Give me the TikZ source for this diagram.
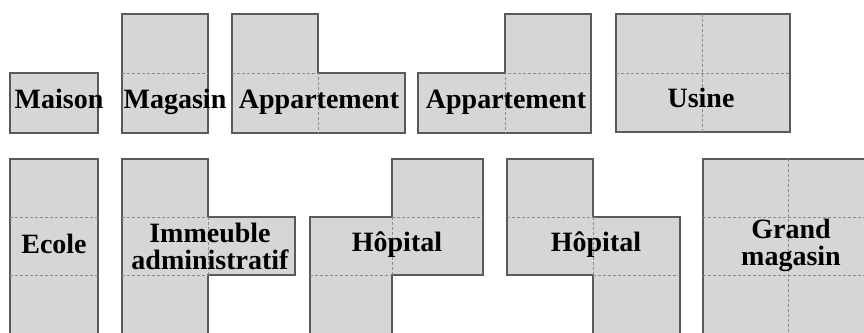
\documentclass[tikz,border=0pt]{standalone}
\usepackage{fontspec}
\setmainfont{Liberation Serif}
\definecolor{roomgray}{RGB}{214,214,214}
\definecolor{wallgray}{RGB}{90,90,90}
\definecolor{cutgray}{RGB}{140,140,140}
\begin{document}
\begin{tikzpicture}[x=1pt,y=-1pt,
		room/.style={fill=roomgray, draw=wallgray, line width=1.2pt},
		cut/.style={draw=cutgray, line width=0.7pt, dash pattern=on 3pt off 2pt},
		roomname/.style={font=\bfseries\fontsize{28}{27}\selectfont, align=center, anchor=base, inner sep=0pt}]
		\useasboundingbox (0,0) rectangle (864,332);
		
		% first row
		\draw[room] (10,73) rectangle (98,133);
		\draw[room] (122,14) rectangle (208,133);
		\draw[cut] (122,73) -- (208,73);
		\draw[room] (232,14) -- (318,14) -- (318,73) -- (405,73) -- (405,133) -- (232,133) -- cycle;
		\draw[cut] (232,73) -- (318,73) -- (318,133);
		\draw[room] (418,73) -- (505,73) -- (505,14) -- (591,14) -- (591,133) -- (418,133) -- cycle;
		\draw[cut] (591,73) -- (505,73) -- (505,133);
		\draw[room] (616,14) rectangle (790,132);
		\draw[cut] (616,73) -- (790,73) (702,14) -- (702,132);
		
		\node[roomname] (maison) at (59,108) {Maison};
		\node[roomname] (magasin) at (175,108) {Magasin};
		\node[roomname] (appart1) at (319,108) {Appartement};
		\node[roomname] (appart2) at (506,108) {Appartement};
		\node[roomname] (usine) at (701,107) {Usine};
		
		% second row
		\draw[room] (10,159) rectangle (98,340);
		\draw[room] (122,159) -- (208,159) -- (208,217) -- (295,217) -- (295,275) -- (208,275) -- (208,340) -- (122,340) -- cycle;
		\draw[room] (392,159) -- (483,159) -- (483,275) -- (392,275) -- (392,340) -- (310,340) -- (310,217) -- (392,217) -- cycle;
		\draw[room] (507,159) -- (593,159) -- (593,217) -- (680,217) -- (680,340) -- (593,340) -- (593,275) -- (507,275) -- cycle;
		\draw[room] (703,159) rectangle (880,340);
		\foreach \y in {217,275}{
			\draw[cut] (10,\y) -- (98,\y);
			\draw[cut] (122,\y) -- (208,\y);
			\draw[cut] (703,\y) -- (880,\y);
		}
		\draw[cut] (208,217) -- (208,275);
		\draw[cut] (392,217) -- (483,217) (310,275) -- (392,275) (392,217) -- (392,275);
		\draw[cut] (507,217) -- (593,217) (593,275) -- (680,275) (593,217) -- (593,275);
		\draw[cut] (788,159) -- (788,340);
		
		\node[roomname] (ecole) at (54,253) {Ecole};
		\node[roomname] (immeuble) at (210,269) {Immeuble\\administratif};
		\node[roomname] (hopital1) at (397,251) {Hôpital};
		\node[roomname] (hopital2) at (596,251) {Hôpital};
		\node[roomname] (grandmag) at (791,265) {Grand\\magasin};
	\end{tikzpicture}
\end{document}
